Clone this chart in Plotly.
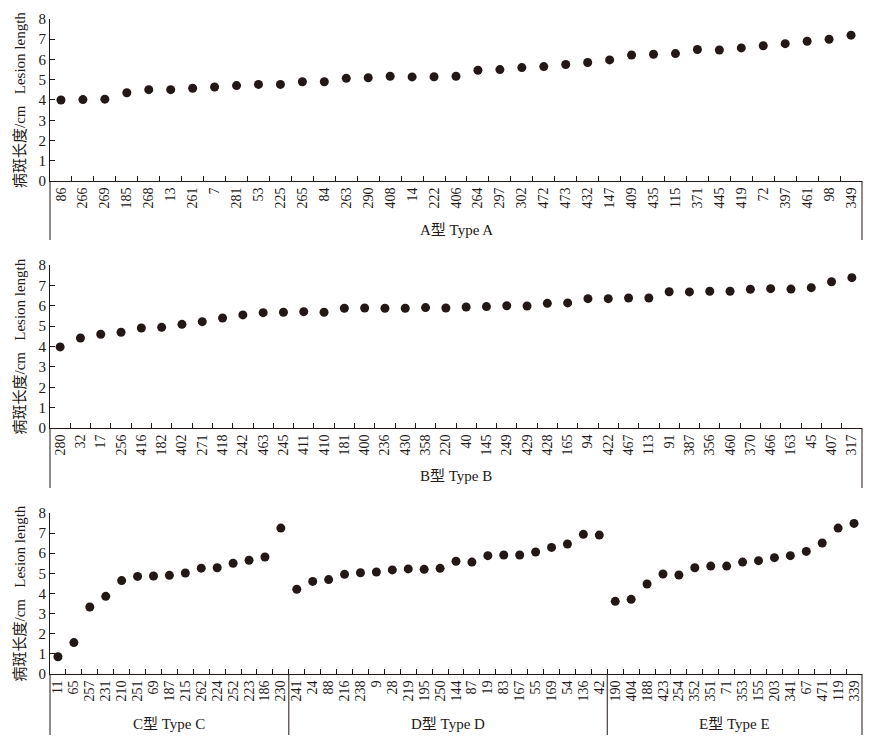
import plotly.graph_objects as go

# Type A isolates and lesion length (cm)
a_ids = ["86", "266", "269", "185", "268", "13", "261", "7", "281", "53", "225", "265", "84",
         "263", "290", "408", "14", "222", "406", "264", "297", "302", "472", "473", "432",
         "147", "409", "435", "115", "371", "445", "419", "72", "397", "461", "98", "349"]
a_len = [4.00, 4.02, 4.04, 4.36, 4.51, 4.51, 4.58, 4.64, 4.71, 4.77, 4.77, 4.90, 4.90,
         5.07, 5.10, 5.17, 5.14, 5.15, 5.17, 5.47, 5.50, 5.60, 5.65, 5.75, 5.85,
         5.98, 6.22, 6.26, 6.29, 6.49, 6.47, 6.57, 6.68, 6.78, 6.90, 7.00, 7.20]

# Type B
b_ids = ["280", "32", "17", "256", "416", "182", "402", "271", "418", "242", "463", "245",
         "411", "410", "181", "400", "236", "430", "358", "220", "40", "145", "249", "429",
         "428", "165", "94", "422", "467", "113", "91", "387", "356", "460", "370", "466",
         "163", "45", "407", "317"]
b_len = [3.98, 4.42, 4.60, 4.70, 4.91, 4.94, 5.09, 5.22, 5.40, 5.55, 5.66, 5.68,
         5.71, 5.68, 5.88, 5.89, 5.88, 5.88, 5.91, 5.89, 5.94, 5.96, 6.00, 5.99,
         6.12, 6.14, 6.35, 6.35, 6.38, 6.38, 6.69, 6.68, 6.71, 6.71, 6.81, 6.84,
         6.82, 6.89, 7.18, 7.38]

# Type C
c_ids = ["11", "65", "257", "231", "210", "251", "69", "187", "215", "262", "224", "252",
         "223", "186", "230"]
c_len = [0.86, 1.56, 3.33, 3.86, 4.64, 4.85, 4.87, 4.90, 5.02, 5.26, 5.28, 5.50,
         5.65, 5.81, 7.25]

# Type D
d_ids = ["241", "24", "88", "216", "238", "9", "28", "219", "195", "250", "144", "87",
         "19", "83", "167", "55", "169", "54", "136", "42"]
d_len = [4.21, 4.60, 4.69, 4.95, 5.03, 5.07, 5.17, 5.22, 5.20, 5.25, 5.60, 5.56,
         5.88, 5.91, 5.91, 6.06, 6.29, 6.46, 6.94, 6.90]

# Type E
e_ids = ["190", "404", "188", "423", "254", "352", "351", "71", "353", "155", "203", "341",
         "67", "471", "119", "339"]
e_len = [3.61, 3.71, 4.47, 4.97, 4.92, 5.28, 5.36, 5.36, 5.56, 5.63, 5.78, 5.88,
         6.09, 6.51, 7.25, 7.48]

FONT = "Liberation Serif, Times New Roman, Noto Sans CJK SC, serif"
INK = "#231815"
Y_TITLE = "病斑长度/cm   Lesion length"

# page body has an 8px margin, so the figure sits 8px right/down in the window
W, H = 882, 736
ML, MR = 42, 28

panels = [
    dict(groups=[("A型 Type A", a_ids, a_len)], domain=[0.7649, 0.9851], label_y=-0.30, bottom=-0.364),
    dict(groups=[("B型 Type B", b_ids, b_len)], domain=[0.4293, 0.6508], label_y=-0.295, bottom=-0.368),
    dict(groups=[("C型 Type C", c_ids, c_len), ("D型 Type D", d_ids, d_len),
                 ("E型 Type E", e_ids, e_len)], domain=[0.0951, 0.3139], label_y=-0.31, bottom=-0.379),
]

fig = go.Figure()
annotations = []
shapes = []

for i, p in enumerate(panels, start=1):
    xa = "x" if i == 1 else f"x{i}"
    ya = "y" if i == 1 else f"y{i}"
    ids, vals = [], []
    for _, g_ids, g_len in p["groups"]:
        ids += g_ids
        vals += g_len

    fig.add_trace(go.Scatter(
        x=ids, y=vals, mode="markers", xaxis=xa, yaxis=ya,
        marker=dict(size=9, color=INK), showlegend=False,
    ))

    fig.update_layout(**{
        ("xaxis" if i == 1 else f"xaxis{i}"): dict(
            domain=[0, 1], anchor=ya, type="category", range=[-0.5, len(ids) - 0.5],
            tickmode="linear", dtick=1, automargin=False,
            showline=True, linecolor=INK, linewidth=1, showgrid=False, zeroline=False,
            ticks="inside", ticklen=5, tickcolor=INK, tickson="boundaries",
            tickangle=-90, tickfont=dict(family=FONT, size=14, color=INK),
        ),
        ("yaxis" if i == 1 else f"yaxis{i}"): dict(
            domain=p["domain"], anchor=xa, range=[0, 8], dtick=1, automargin=False,
            showline=True, linecolor=INK, linewidth=1, showgrid=False, zeroline=False,
            ticks="inside", ticklen=5, tickcolor=INK,
            tickfont=dict(family=FONT, size=15, color=INK),
        ),
    })

    # y title
    annotations.append(dict(
        text=Y_TITLE, textangle=-90, xref="paper", yref=f"{ya} domain",
        x=(12 - ML) / (W - ML - MR), y=0.5, showarrow=False, xanchor="center", yanchor="middle",
        font=dict(family=FONT, size=15, color=INK),
    ))

    # bracket lines below the axis
    shapes.append(dict(type="line", xref=f"{xa} domain", yref=f"{ya} domain",
                       x0=0, x1=0, y0=0, y1=p["bottom"], line=dict(color=INK, width=1)))
    shapes.append(dict(type="line", xref=f"{xa} domain", yref=f"{ya} domain",
                       x0=1, x1=1, y0=0, y1=p["bottom"], line=dict(color=INK, width=1)))

    start = 0
    for k, (name, g_ids, _) in enumerate(p["groups"]):
        end = start + len(g_ids)
        annotations.append(dict(
            text=name, xref=xa, yref=f"{ya} domain",
            x=(start + end - 1) / 2, y=p["label_y"], showarrow=False,
            xanchor="center", yanchor="middle",
            font=dict(family=FONT, size=15, color=INK),
        ))
        if k < len(p["groups"]) - 1:
            shapes.append(dict(type="line", xref=xa, yref=f"{ya} domain",
                               x0=end - 0.5, x1=end - 0.5, y0=0, y1=p["bottom"],
                               line=dict(color=INK, width=1)))
        start = end

fig.update_layout(
    width=W, height=H,
    margin=dict(l=ML, r=MR, t=0, b=0),
    paper_bgcolor="white", plot_bgcolor="white",
    font=dict(family=FONT, color=INK),
    annotations=annotations, shapes=shapes,
)

fig.write_html("out.html")
